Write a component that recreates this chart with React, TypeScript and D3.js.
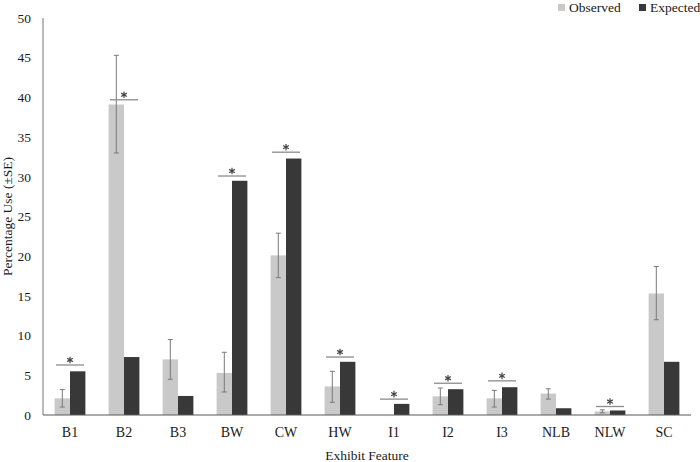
import React from "react";
import * as d3 from "d3";

const categories = ["B1", "B2", "B3", "BW", "CW", "HW", "I1", "I2", "I3", "NLB", "NLW", "SC"];
const observed = [2.1, 39.1, 7.0, 5.3, 20.1, 3.6, 0, 2.35, 2.1, 2.7, 0.45, 15.3];
const observedLow = [1.0, 33.0, 4.5, 2.9, 17.3, 1.6, 0, 1.3, 1.0, 2.0, 0.28, 12.0];
const observedHigh = [3.2, 45.3, 9.5, 7.9, 22.9, 5.5, 0, 3.4, 3.1, 3.3, 0.65, 18.7];
const expected = [5.5, 7.3, 2.4, 29.5, 32.3, 6.7, 1.4, 3.25, 3.5, 0.85, 0.57, 6.7];
const sigLevel = [6.3, 39.7, null, 30.1, 33.1, 7.3, 2.0, 4.0, 4.3, null, 1.07, null];
const yTicks = [0, 5, 10, 15, 20, 25, 30, 35, 40, 45, 50];
const seriesNames = ["Observed", "Expected"];

const W = 700, H = 462;
const m = { left: 43, right: 9, top: 18, bottom: 47 };
const OBS = "#c9c9c9", EXP = "#383838";
const FONT = "'Liberation Serif', 'Times New Roman', serif";
const TXT = "#1a1a1a";

export default function App() {
  const x = d3.scaleBand<string>().domain(categories).range([m.left, W - m.right]).paddingInner(0.43).paddingOuter(0.215);
  const y = d3.scaleLinear().domain([0, 50]).range([H - m.bottom, m.top]);
  const bw = x.bandwidth() / 2;
  const y0 = y(0);
  const star = d3.symbol().type(d3.symbolAsterisk).size(30)() as string;
  return (
    <svg width={W} height={H} style={{ position: "absolute", left: 0, top: 0, background: "#fff" }} fontFamily={FONT}>
      {yTicks.map((t) => (
        <text key={t} x={31} y={y(t)} dy="0.35em" textAnchor="end" fontSize={13.5} fill={TXT}>{t}</text>
      ))}
      <line x1={m.left} x2={m.left} y1={y(50)} y2={y0} stroke="#8c8c8c" strokeWidth={1.2} />
      {categories.map((c, i) => {
        const x0 = x(c)!;
        const cx = x0 + bw;
        const sig = sigLevel[i];
        return (
          <g key={c}>
            {observed[i] > 0 && <rect x={x0} y={y(observed[i])} width={bw} height={y0 - y(observed[i])} fill={OBS} />}
            <rect x={x0 + bw} y={y(expected[i])} width={bw} height={y0 - y(expected[i])} fill={EXP} />
            {observedHigh[i] > 0 && (
              <g stroke="#7a7a7a" strokeWidth={1}>
                <line x1={x0 + bw / 2} x2={x0 + bw / 2} y1={y(observedHigh[i])} y2={y(observedLow[i])} />
                <line x1={x0 + bw / 2 - 2.5} x2={x0 + bw / 2 + 2.5} y1={y(observedHigh[i])} y2={y(observedHigh[i])} />
                <line x1={x0 + bw / 2 - 2.5} x2={x0 + bw / 2 + 2.5} y1={y(observedLow[i])} y2={y(observedLow[i])} />
              </g>
            )}
            {sig !== null && (
              <g>
                <line x1={cx - 14} x2={cx + 14} y1={y(sig)} y2={y(sig)} stroke="#8c8c8c" strokeWidth={1.3} />
                <path d={star} transform={`translate(${cx},${y(sig) - 5})`} fill="none" stroke="#444" strokeWidth={1.2} />
              </g>
            )}
            <text x={cx} y={437} textAnchor="middle" fontSize={14} fill={TXT}>{c}</text>
          </g>
        );
      })}
      <line x1={m.left} x2={W - m.right} y1={y0} y2={y0} stroke="#595959" strokeWidth={1.2} />
      <text x={(m.left + W - m.right) / 2} y={460} textAnchor="middle" fontSize={13.5} fill={TXT}>Exhibit Feature</text>
      <text transform={`translate(12,${(y(50) + y0) / 2}) rotate(-90)`} textAnchor="middle" fontSize={13.5} fill={TXT}>Percentage Use (±SE)</text>
      {seriesNames.map((s, i) => (
        <g key={s} transform={`translate(${558 + i * 81},0)`}>
          <rect x={0} y={4} width={7} height={7} fill={i === 0 ? OBS : EXP} />
          <text x={11} y={12} fontSize={13.5} fill={TXT}>{s}</text>
        </g>
      ))}
    </svg>
  );
}
